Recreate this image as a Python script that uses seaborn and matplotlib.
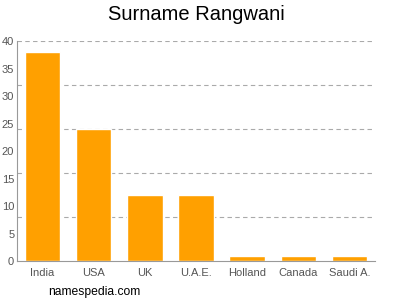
import matplotlib
matplotlib.use("Agg")
import matplotlib.pyplot as plt
import seaborn as sns
import pandas as pd

countries = ["India", "USA", "UK", "U.A.E.", "Holland", "Canada", "Saudi A."]
counts = [38, 24, 12, 12, 1, 1, 1]
y_ticks = [0, 5, 10, 15, 20, 25, 30, 35, 40]
grid_vals = [8, 16, 24, 32, 40]

df = pd.DataFrame({"country": countries, "count": counts})

sns.set_style("white")
plt.rcParams['font.family'] = ['Liberation Sans', 'DejaVu Sans']

fig = plt.figure(figsize=(4, 3), dpi=100)
ax = fig.add_axes([0.0425, 0.13, 0.895, 0.7333])

for g in grid_vals:
    ax.axhline(g, color="#aaaaaa", linestyle=(0, (4, 3)), linewidth=0.8, zorder=0)

sns.barplot(data=df, x="country", y="count", color="#FFA000", width=0.69,
            saturation=1, ax=ax, zorder=2)

ax.set_xlim(-0.5, 6.5)
ax.set_ylim(0, 40)
ax.set_yticks(y_ticks)
ax.set_xlabel("")
ax.set_ylabel("")
for s in ["top", "right"]:
    ax.spines[s].set_visible(False)
for s in ["left", "bottom"]:
    ax.spines[s].set_color("#999999")
    ax.spines[s].set_linewidth(0.8)
ax.tick_params(axis="x", colors="#999999", labelcolor="#555555", labelsize=8,
               length=3, width=0.8, pad=2)
ax.tick_params(axis="y", colors="#999999", labelcolor="#555555", labelsize=8,
               length=1.5, width=0.8, pad=0.5)

fig.text(0.49, 0.95, "Surname Rangwani", ha="center", va="center", fontsize=14.5, color="#000000")
fig.text(0.12, 0.027, "namespedia.com", ha="left", va="center", fontsize=8.7, color="#000000")

fig.savefig("out.png", dpi=100)
